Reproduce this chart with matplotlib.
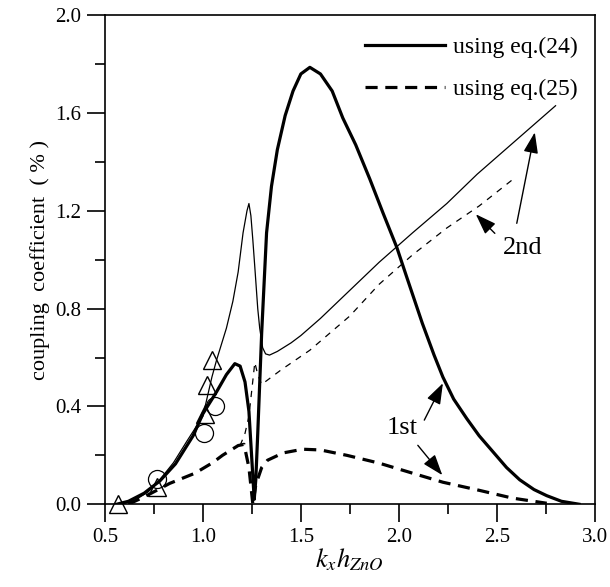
import matplotlib
matplotlib.use('Agg')
import matplotlib.pyplot as plt
from matplotlib.ticker import MultipleLocator, FormatStrFormatter

plt.rcParams['font.family'] = 'Liberation Serif'
plt.rcParams['mathtext.fontset'] = 'stix'

# 1st mode, eq.(24)  (thick solid)
x1_24 = [0.56, 0.62, 0.70, 0.78, 0.86, 0.95, 1.00, 1.07, 1.12, 1.163, 1.19, 1.215,
         1.235, 1.25, 1.262, 1.27, 1.28, 1.30, 1.325, 1.35, 1.38, 1.42, 1.46, 1.50,
         1.546, 1.60, 1.66, 1.714, 1.78, 1.852, 1.92, 1.99, 2.04, 2.12, 2.18, 2.225,
         2.28, 2.347, 2.41, 2.48, 2.55, 2.617, 2.69, 2.755, 2.83, 2.92]
y1_24 = [0.0, 0.012, 0.045, 0.095, 0.165, 0.28, 0.37, 0.46, 0.53, 0.575, 0.565, 0.50,
         0.38, 0.18, 0.02, 0.10, 0.29, 0.70, 1.11, 1.30, 1.45, 1.59, 1.69, 1.76,
         1.787, 1.76, 1.69, 1.58, 1.47, 1.33, 1.19, 1.05, 0.93, 0.74, 0.61, 0.52,
         0.43, 0.35, 0.28, 0.215, 0.15, 0.10, 0.06, 0.035, 0.012, 0.0]

# 1st mode, eq.(25)  (thick dashed)
x1_25 = [0.62, 0.70, 0.76, 0.83, 0.96, 1.05, 1.10, 1.18, 1.21, 1.235, 1.255, 1.27,
         1.30, 1.33, 1.41, 1.51, 1.60, 1.735, 1.90, 2.07, 2.225, 2.41, 2.58, 2.755]
y1_25 = [0.0, 0.03, 0.055, 0.085, 0.127, 0.17, 0.20, 0.24, 0.245, 0.15, 0.0, 0.08,
         0.15, 0.18, 0.21, 0.225, 0.222, 0.20, 0.168, 0.127, 0.09, 0.057, 0.025, 0.004]

# 2nd mode, eq.(24)  (thin solid)
x2_24 = [0.58, 0.65, 0.72, 0.78, 0.85, 0.92, 1.00, 1.046, 1.07, 1.12, 1.153, 1.18,
         1.205, 1.225, 1.235, 1.245, 1.255, 1.265, 1.28, 1.29, 1.305, 1.32, 1.34,
         1.38, 1.45, 1.50, 1.60, 1.75, 1.90, 2.07, 2.245, 2.40, 2.60, 2.80]
y2_24 = [0.0, 0.015, 0.05, 0.10, 0.17, 0.26, 0.36, 0.52, 0.59, 0.72, 0.83, 0.95,
         1.11, 1.20, 1.23, 1.18, 1.08, 0.97, 0.80, 0.72, 0.64, 0.615, 0.61,
         0.625, 0.66, 0.69, 0.76, 0.875, 0.99, 1.11, 1.23, 1.35, 1.49, 1.63]

# 2nd mode, eq.(25)  (thin dashed)
x2_25 = [1.19, 1.215, 1.235, 1.25, 1.265, 1.28, 1.30, 1.40, 1.546, 1.75, 1.90,
         2.07, 2.245, 2.41, 2.60]
y2_25 = [0.24, 0.29, 0.36, 0.47, 0.58, 0.53, 0.49, 0.55, 0.63, 0.77, 0.90,
         1.02, 1.13, 1.22, 1.34]

# measured points
tri_x = [0.565, 0.765, 1.01, 1.02, 1.046]
tri_y = [0.0, 0.07, 0.37, 0.487, 0.59]
circ_x = [0.765, 1.005, 1.06]
circ_y = [0.105, 0.29, 0.40]

fig = plt.figure(figsize=(6.10, 5.87), dpi=100)
ax = fig.add_axes([0.172, 0.141, 0.803, 0.833])

ax.plot(x1_24, y1_24, color='k', lw=2.3, label='using eq.(24)')
ax.plot(x1_25, y1_25, color='k', lw=2.3, dashes=(3.8, 2.4), label='using eq.(25)')
ax.plot(x2_24, y2_24, color='k', lw=0.9)
ax.plot(x2_25, y2_25, color='k', lw=0.9, dashes=(5, 5))

ax.plot(tri_x, tri_y, linestyle='none', marker='^', markersize=13, clip_on=False,
        markerfacecolor='none', markeredgecolor='k', markeredgewidth=1.0)
ax.plot(circ_x, circ_y, linestyle='none', marker='o', markersize=13, clip_on=False,
        markerfacecolor='none', markeredgecolor='k', markeredgewidth=0.9)

# mode labels with arrows
arw = dict(arrowstyle='-|>,head_length=0.85,head_width=0.3', color='k', lw=1.0,
           mutation_scale=15, shrinkA=0, shrinkB=0)
ax.text(2.633, 1.047, '2nd', fontsize=19, ha='center', va='center')
ax.annotate('', xy=(2.694, 1.521), xytext=(2.602, 1.149), arrowprops=arw)
ax.annotate('', xy=(2.393, 1.186), xytext=(2.49, 1.108), arrowprops=arw)
ax.text(2.015, 0.31, '1st', fontsize=19, ha='center', va='center')
ax.annotate('', xy=(2.225, 0.495), xytext=(2.13, 0.344), arrowprops=arw)
ax.annotate('', xy=(2.222, 0.119), xytext=(2.097, 0.241), arrowprops=arw)

ax.set_xlim(0.5, 3.0)
ax.set_ylim(0.0, 2.0)
ax.xaxis.set_major_locator(MultipleLocator(0.5))
ax.xaxis.set_minor_locator(MultipleLocator(0.25))
ax.yaxis.set_major_locator(MultipleLocator(0.4))
ax.yaxis.set_minor_locator(MultipleLocator(0.2))
ax.xaxis.set_major_formatter(FormatStrFormatter('%.1f'))
ax.yaxis.set_major_formatter(FormatStrFormatter('%.1f'))
ax.tick_params(which='major', direction='out', length=13, width=1.2, labelsize=15, pad=4)
ax.tick_params(which='minor', direction='out', length=7, width=1.2)
for s in ax.spines.values():
    s.set_linewidth(1.2)

ax.set_xlabel(r'$k_x h_{ZnO}$', fontsize=19, labelpad=0)
ax.set_ylabel('coupling  coefficient  ( % )', fontsize=16, labelpad=4)

ax.legend(loc='upper right', bbox_to_anchor=(0.985, 0.975), frameon=False,
          fontsize=17, handlelength=3.4, handletextpad=0.35, labelspacing=0.85,
          borderaxespad=0)

plt.savefig('out.png', dpi=100)
